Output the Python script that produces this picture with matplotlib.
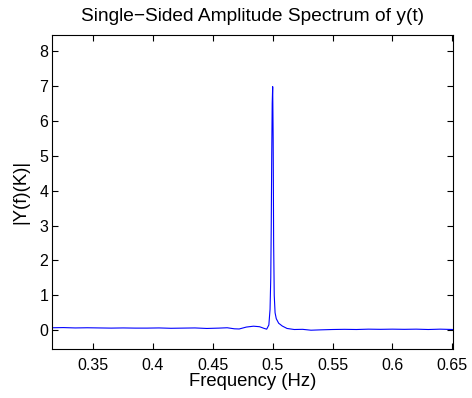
import matplotlib
matplotlib.use("Agg")
import matplotlib.pyplot as plt

plt.rcParams['font.family'] = ['Liberation Sans', 'DejaVu Sans']

freq = [0.3155, 0.325, 0.335, 0.345, 0.355, 0.365, 0.375, 0.385, 0.395, 0.405,
        0.415, 0.425, 0.435, 0.445, 0.455, 0.462, 0.468, 0.472, 0.478, 0.484,
        0.489, 0.493, 0.495, 0.4968, 0.4978, 0.4984, 0.4988, 0.4992, 0.4996, 0.5,
        0.5004, 0.5008, 0.5013, 0.502, 0.503, 0.505, 0.508, 0.512, 0.518, 0.525,
        0.532, 0.54, 0.55, 0.56, 0.57, 0.58, 0.59, 0.60, 0.61, 0.62,
        0.63, 0.64, 0.651]
amp = [0.07, 0.075, 0.065, 0.07, 0.065, 0.06, 0.065, 0.06, 0.06, 0.065,
       0.055, 0.06, 0.065, 0.05, 0.06, 0.07, 0.04, 0.035, 0.09, 0.115,
       0.10, 0.05, 0.03, 0.15, 0.6, 1.5, 3.0, 5.0, 6.5, 6.98,
       5.5, 2.5, 1.0, 0.5, 0.33, 0.2, 0.12, 0.05, 0.02, 0.025,
       0.0, 0.01, 0.02, 0.025, 0.02, 0.03, 0.025, 0.03, 0.025, 0.03,
       0.02, 0.03, 0.02]
xticks = [0.35, 0.4, 0.45, 0.5, 0.55, 0.6, 0.65]
xtick_labels = ['0.35', '0.4', '0.45', '0.5', '0.55', '0.6', '0.65']
yticks = [0, 1, 2, 3, 4, 5, 6, 7, 8]

fig = plt.figure(figsize=(4.72, 3.98), dpi=100)
ax = fig.add_axes([0.110, 0.123, 0.850, 0.789])
ax.plot(freq, amp, color=(0, 0, 1), linewidth=0.8)
ax.set_xlim(0.3155, 0.6508)
ax.set_ylim(-0.54, 8.46)
ax.set_xticks(xticks)
ax.set_xticklabels(xtick_labels)
ax.set_yticks(yticks)
ax.tick_params(direction='in', top=True, right=True, labelsize=11.5, length=4, width=0.8)
ax.tick_params(axis='x', pad=6.5)
ax.tick_params(axis='y', pad=2.5)
for s in ax.spines.values():
    s.set_linewidth(0.8)
ax.set_title('Single\u2212Sided Amplitude Spectrum of y(t)', fontsize=13.8, pad=10)
ax.set_xlabel('Frequency (Hz)', fontsize=13.3, labelpad=0)
ax.set_ylabel('|Y(f)(K)|', fontsize=13.3, labelpad=7)
fig.savefig('out.png', dpi=100)
